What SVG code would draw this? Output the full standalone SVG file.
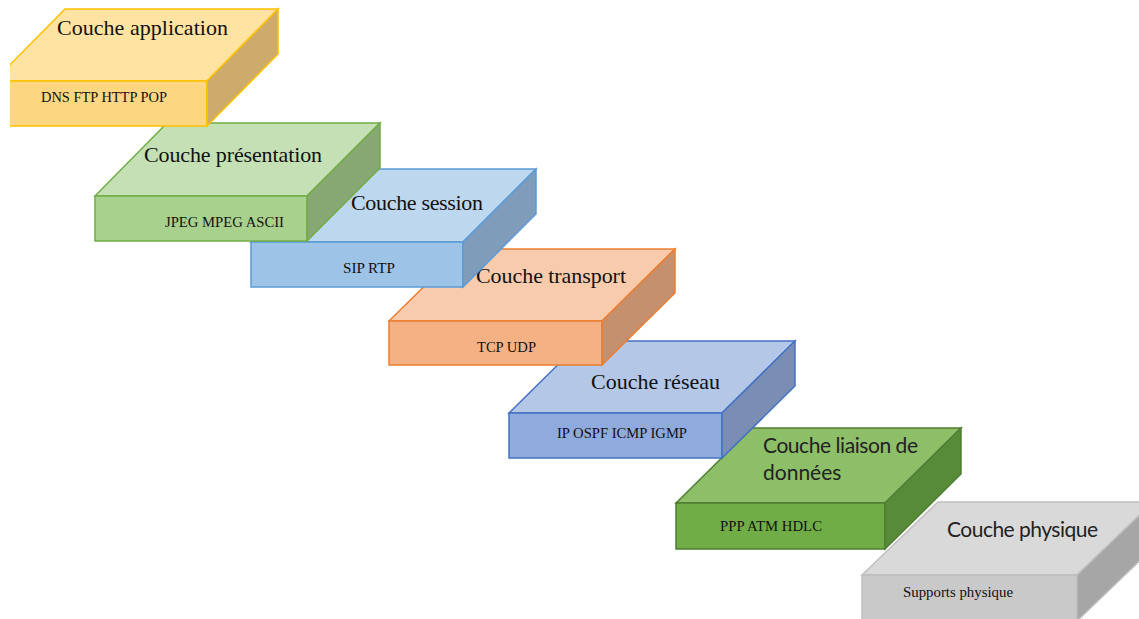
<svg xmlns="http://www.w3.org/2000/svg" width="1139" height="619" viewBox="0 0 1139 619">
<style>
.t{font-family:'Liberation Serif','DejaVu Serif',serif;font-size:22px;fill:#111}
.s{font-family:'Liberation Serif','DejaVu Serif',serif;font-size:14px;fill:#111}
.c{font-family:Lato,'Liberation Sans',sans-serif;font-size:21px;fill:#222}
.face{stroke-width:1.5;stroke-linejoin:miter}
</style>
<defs><clipPath id="clip1"><rect x="10" y="0" width="1129" height="619"/></clipPath></defs>
<rect width="1139" height="619" fill="#ffffff"/>

<g id="physique">
<polygon class="face" points="862,575 938,502 1153,502 1077,575" fill="#D9D9D9" stroke="#BFBFBF"/>
<rect class="face" x="862" y="575" width="215" height="46" fill="#C9C9C9" stroke="#BFBFBF"/>
<polygon class="face" points="1077,575 1153,502 1153,548 1077,621" fill="#A6A6A6" stroke="#BFBFBF"/>
<text class="c" x="947" y="537" textLength="151">Couche physique</text>
<text class="s" x="903" y="597" textLength="110" lengthAdjust="spacingAndGlyphs">Supports physique</text>
</g>

<g id="liaison">
<polygon class="face" points="676,503 752,428 961,428 885,503" fill="#8DBE68" stroke="#507E32"/>
<rect class="face" x="676" y="503" width="209" height="46" fill="#70AD47" stroke="#507E32"/>
<polygon class="face" points="885,503 961,428 961,474 885,549" fill="#578B37" stroke="#507E32"/>
<text class="c" x="763" y="453" textLength="155">Couche liaison de</text>
<text class="c" x="763" y="480">données</text>
<text class="s" x="720" y="531" textLength="102" lengthAdjust="spacingAndGlyphs">PPP ATM HDLC</text>
</g>

<g id="reseau">
<polygon class="face" points="509,413 582,341 795,341 722,413" fill="#B4C7E7" stroke="#4472C4"/>
<rect class="face" x="509" y="413" width="213" height="45" fill="#8FAADC" stroke="#4472C4"/>
<polygon class="face" points="722,413 795,341 795,386 722,458" fill="#7A8DB3" stroke="#4472C4"/>
<text class="t" x="591" y="389" textLength="129">Couche réseau</text>
<text class="s" x="557" y="438" textLength="130" lengthAdjust="spacingAndGlyphs">IP OSPF ICMP IGMP</text>
</g>

<g id="transport">
<polygon class="face" points="389,321 462,249 675,249 602,321" fill="#F8CBAD" stroke="#ED7D31"/>
<rect class="face" x="389" y="321" width="213" height="44" fill="#F4B183" stroke="#ED7D31"/>
<polygon class="face" points="602,321 675,249 675,293 602,365" fill="#C4906E" stroke="#ED7D31"/>
<text class="t" x="476" y="283" textLength="150">Couche transport</text>
<text class="s" x="477" y="352" textLength="59" lengthAdjust="spacingAndGlyphs">TCP UDP</text>
</g>

<g id="session">
<polygon class="face" points="251,242 324,169 536,169 463,242" fill="#BDD7EE" stroke="#5B9BD5"/>
<rect class="face" x="251" y="242" width="212" height="45" fill="#9DC3E6" stroke="#5B9BD5"/>
<polygon class="face" points="463,242 536,169 536,214 463,287" fill="#7F9DBA" stroke="#5B9BD5"/>
<text class="t" x="351" y="210" textLength="132">Couche session</text>
<text class="s" x="343" y="273" textLength="52" lengthAdjust="spacingAndGlyphs">SIP RTP</text>
</g>

<g id="presentation">
<polygon class="face" points="95,196 167,123 380,123 307,196" fill="#C5E0B4" stroke="#70AD47"/>
<rect class="face" x="95" y="196" width="212" height="45" fill="#A9D18E" stroke="#70AD47"/>
<polygon class="face" points="307,196 380,123 380,168 307,241" fill="#87A872" stroke="#70AD47"/>
<text class="t" x="144" y="162" textLength="178">Couche présentation</text>
<text class="s" x="165" y="227" textLength="119" lengthAdjust="spacingAndGlyphs">JPEG MPEG ASCII</text>
</g>

<g id="application" clip-path="url(#clip1)">
<polygon class="face" points="-6,81 65,9 278,9 207,81" fill="#FFE3A3" stroke="#FFC000"/>
<rect class="face" x="-6" y="81" width="213" height="45" fill="#FDD682" stroke="#FFC000"/>
<polygon class="face" points="207,81 278,9 278,54 207,126" fill="#CCAB6C" stroke="#FFC000"/>
</g>
<g id="application-text">
<text class="t" x="57" y="35" textLength="171">Couche application</text>
<text class="s" x="41" y="102" textLength="126" lengthAdjust="spacingAndGlyphs">DNS FTP HTTP POP</text>
</g>

<g id="connectors"/>
</svg>
